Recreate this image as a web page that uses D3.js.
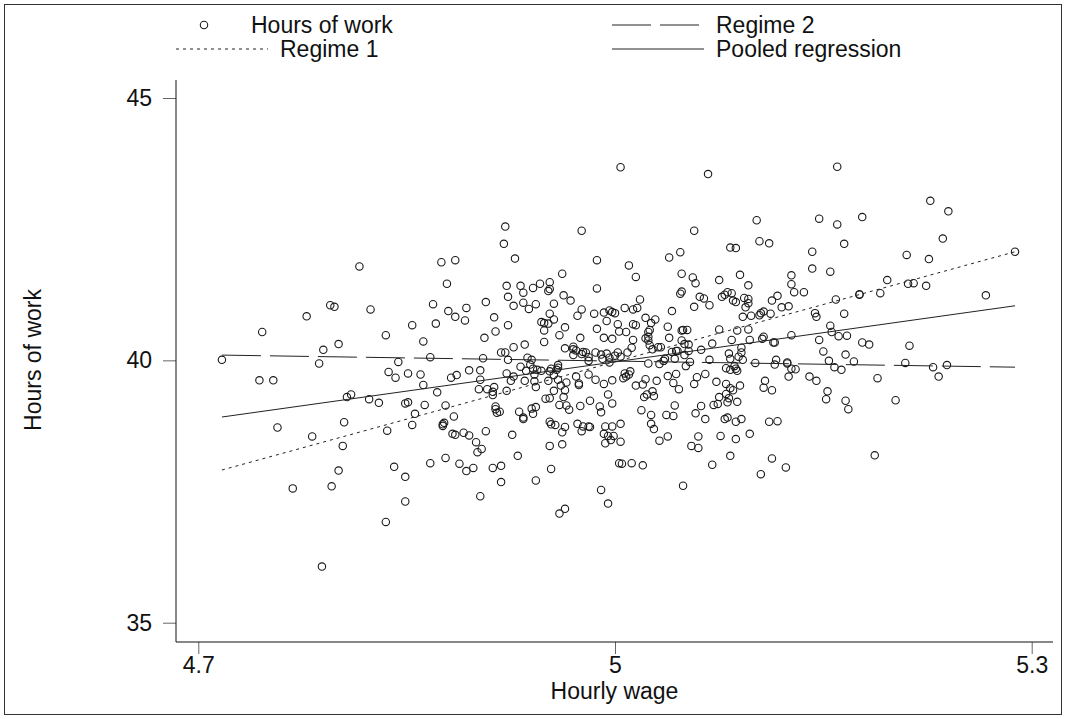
<!DOCTYPE html>
<html lang="en">
<head>
    <meta charset="UTF-8">
    <title>Hours of work and hourly wage</title>
    <script src="https://d3js.org/d3.v7.min.js"></script>
    <style>
        body { margin: 0; background: #fff; }
        text { font-family: "Liberation Sans", Arial, sans-serif; fill: #111; }
        .tick text { font-size: 23px; }
        .tick line { stroke: #666; }
    </style>
</head>
<body>
    <svg id="chart" width="1067" height="719"></svg>
    <script>
        // observations: [hourly wage, hours of work]
        const obs = [
            [4.717,40.01],[4.746,40.54],[4.744,39.62],[4.754,39.62],[4.757,38.72],[4.768,37.56],[4.778,40.84],[4.782,38.55],[4.787,39.94],[4.790,40.20],
            [4.789,36.07],[4.795,41.05],[4.798,41.02],[4.796,37.60],[4.801,40.31],[4.801,37.90],[4.804,38.37],[4.805,38.82],[4.807,39.30],[4.810,39.35],
            [4.816,41.79],[4.823,39.26],[4.824,40.97],[4.830,39.19],[4.835,40.48],[4.836,38.66],[4.835,36.92],[4.837,39.78],[4.841,37.97],[4.842,39.67],
            [4.844,39.97],[4.849,39.18],[4.851,39.75],[4.851,39.20],[4.849,37.78],[4.849,37.31],[4.854,40.67],[4.856,38.98],[4.854,38.77],[4.875,41.87],
            [4.885,41.91],[4.921,42.55],[4.920,42.22],[4.928,41.94],[4.976,42.47],[4.987,41.91],[4.962,41.65],[4.953,41.49],[5.004,43.68],[4.879,41.46],
            [4.922,41.42],[4.932,41.42],[4.941,41.38],[4.946,41.46],[4.952,41.32],[4.953,41.36],[4.934,41.29],[4.923,41.21],[4.963,41.24],[4.968,41.14],
            [4.987,41.37],[4.869,41.07],[4.907,41.11],[4.927,41.04],[4.934,41.10],[4.938,40.98],[4.943,41.07],[4.956,41.08],[4.880,40.94],[4.893,41.00],
            [4.885,40.83],[4.892,40.76],[4.913,40.82],[4.953,40.89],[4.976,40.97],[4.973,40.85],[4.985,40.89],[4.992,40.91],[4.996,40.95],[4.998,40.92],
            [5.000,40.90],[4.956,40.78],[4.947,40.73],[4.949,40.71],[4.952,40.70],[4.871,40.70],[4.923,40.67],[4.994,40.75],[5.002,40.69],[4.914,40.55],
            [4.949,40.57],[4.964,40.63],[4.987,40.60],[5.003,40.55],[4.906,40.43],[4.960,40.48],[4.975,40.43],[4.992,40.43],[4.998,40.41],[4.862,40.36],
            [4.949,40.35],[4.935,40.30],[4.927,40.25],[4.964,40.23],[4.970,40.26],[4.970,40.21],[4.972,40.19],[4.977,40.16],[4.979,40.15],[4.976,40.12],
            [4.986,40.15],[4.990,40.11],[4.994,40.13],[5.000,40.09],[5.002,40.15],[4.918,40.15],[4.921,40.15],[4.970,40.10],[4.981,40.06],[4.991,40.03],
            [4.996,40.05],[4.867,40.06],[4.905,40.04],[4.923,40.01],[4.937,40.05],[4.940,40.01],[4.959,39.91],[4.959,39.86],[4.958,39.82],[4.981,39.99],
            [4.996,39.96],[4.932,39.88],[4.939,39.92],[4.941,39.84],[4.936,39.80],[4.944,39.82],[4.947,39.80],[4.954,39.84],[4.953,39.79],[4.903,39.81],
            [4.895,39.81],[4.860,39.73],[4.922,39.75],[4.927,39.69],[4.942,39.73],[4.956,39.72],[4.972,39.69],[4.981,39.73],[4.882,39.67],[4.886,39.72],
            [4.903,39.63],[4.925,39.61],[4.935,39.61],[4.942,39.60],[4.952,39.61],[4.959,39.63],[4.965,39.58],[4.986,39.63],[4.992,39.55],[4.998,39.62],
            [4.974,39.56],[4.974,39.53],[4.862,39.53],[4.961,39.52],[4.943,39.49],[4.902,39.45],[4.908,39.45],[4.913,39.49],[4.922,39.42],[4.956,39.42],
            [4.964,39.43],[4.912,39.40],[4.912,39.34],[4.872,39.39],[4.995,39.35],[4.963,39.30],[4.953,39.28],[4.950,39.27],[4.982,39.23],[4.960,39.15],
            [4.965,39.14],[4.967,39.06],[4.863,39.15],[4.878,39.14],[4.914,39.12],[4.914,39.07],[4.915,39.00],[4.917,39.02],[4.943,39.11],[4.940,39.08],
            [4.931,39.02],[4.934,38.91],[4.934,38.88],[4.941,38.98],[4.975,39.13],[4.989,39.12],[4.990,39.01],[4.998,39.18],[4.884,38.93],[4.876,38.78],
            [4.877,38.81],[4.876,38.75],[4.953,38.83],[4.954,38.78],[4.957,38.77],[4.964,38.73],[4.973,38.79],[4.977,38.74],[4.981,38.74],[4.982,38.73],
            [4.993,38.74],[4.998,38.74],[4.962,38.63],[4.976,38.65],[4.992,38.60],[4.995,38.56],[4.997,38.48],[4.993,38.42],[4.885,38.58],[4.883,38.60],
            [4.891,38.62],[4.895,38.57],[4.907,38.65],[4.926,38.58],[4.900,38.44],[4.904,38.31],[4.901,38.25],[4.953,38.37],[4.962,38.40],[4.930,38.18],
            [4.867,38.04],[4.878,38.14],[4.888,38.03],[4.898,37.95],[4.912,37.95],[4.918,37.99],[4.954,37.93],[5.003,38.04],[4.893,37.89],[4.918,37.68],
            [4.903,37.41],[4.943,37.71],[4.960,37.08],[4.964,37.17],[4.990,37.53],[4.995,37.27],[5.067,43.55],[5.102,42.67],[5.147,42.70],[5.057,42.47],
            [5.104,42.27],[5.111,42.23],[5.083,42.15],[5.087,42.14],[5.047,42.06],[5.039,41.96],[5.142,42.07],[5.010,41.81],[5.142,41.75],[5.015,41.59],
            [5.048,41.65],[5.056,41.58],[5.075,41.53],[5.090,41.63],[5.127,41.62],[5.155,41.69],[5.058,41.47],[5.127,41.45],[5.129,41.30],[5.136,41.30],
            [5.096,41.43],[5.018,41.16],[5.013,40.97],[5.016,41.00],[5.007,41.00],[5.041,40.94],[5.048,41.31],[5.047,41.27],[5.057,41.02],[5.061,41.21],
            [5.064,41.18],[5.068,41.05],[5.077,41.21],[5.079,41.25],[5.081,41.30],[5.084,41.28],[5.085,41.14],[5.087,41.11],[5.093,41.19],[5.096,41.17],
            [5.096,41.09],[5.094,41.01],[5.113,41.14],[5.117,41.23],[5.120,41.01],[5.125,41.03],[5.092,40.83],[5.098,40.85],[5.104,40.86],[5.105,40.90],
            [5.107,40.93],[5.112,40.89],[5.144,40.90],[5.145,40.83],[5.022,40.81],[5.029,40.78],[5.013,40.69],[5.015,40.67],[5.026,40.71],[5.038,40.64],
            [5.008,40.54],[5.025,40.58],[5.024,40.54],[5.048,40.57],[5.049,40.58],[5.052,40.58],[5.075,40.59],[5.088,40.57],[5.096,40.59],[5.155,40.66],
            [5.013,40.39],[5.022,40.42],[5.024,40.38],[5.024,40.45],[5.039,40.43],[5.048,40.38],[5.070,40.32],[5.084,40.39],[5.097,40.39],[5.107,40.45],
            [5.106,40.41],[5.114,40.34],[5.115,40.34],[5.127,40.48],[5.147,40.39],[5.012,40.24],
            [5.004,40.07],[5.009,40.15],[5.025,40.29],[5.027,40.21],[5.031,40.25],[5.033,40.25],[5.041,40.16],[5.044,40.18],[5.045,40.18],[5.050,40.31],
            [5.053,40.30],[5.053,40.18],[5.050,40.10],[5.062,40.20],[5.082,40.13],[5.091,40.24],[5.091,40.15],[5.089,40.07],[5.150,40.17],[5.024,39.94],
            [5.032,39.93],[5.035,39.99],[5.036,40.03],[5.043,40.03],[5.054,39.97],[5.051,39.89],[5.068,40.01],[5.083,40.03],[5.092,40.01],[5.101,39.95],
            [5.116,40.01],[5.115,39.92],[5.124,39.96],[5.124,39.94],[5.127,39.84],[5.130,39.83],[5.154,39.99],[5.080,39.85],[5.083,39.82],[5.086,39.89],
            [5.087,39.84],[5.088,39.80],[5.007,39.75],[5.011,39.79],[5.010,39.73],[5.006,39.66],[5.008,39.69],[5.022,39.64],[5.030,39.61],[5.044,39.74],
            [5.038,39.70],[5.059,39.68],[5.065,39.74],[5.073,39.59],[5.125,39.69],[5.140,39.69],[5.145,39.61],[5.108,39.61],[5.015,39.52],[5.020,39.54],
            [5.042,39.57],[5.046,39.45],[5.057,39.55],[5.080,39.55],[5.083,39.47],[5.085,39.43],[5.090,39.52],[5.107,39.48],[5.113,39.43],[5.027,39.41],
            [5.023,39.35],[5.021,39.30],[5.028,39.32],[5.080,39.36],[5.082,39.28],[5.075,39.30],[5.081,39.20],[5.088,39.21],[5.074,39.17],[5.071,39.15],
            [5.153,39.41],[5.152,39.26],[5.043,39.14],[5.062,39.13],[5.019,39.05],[5.037,38.96],[5.042,38.94],[5.026,38.96],[5.058,38.99],[5.065,38.88],
            [5.079,38.88],[5.081,38.91],[5.091,38.88],[5.087,38.83],[5.111,38.83],[5.117,38.84],[5.026,38.79],[5.028,38.69],[5.004,38.79],[4.999,38.56],
            [5.004,38.45],[5.038,38.55],[5.032,38.47],[5.060,38.55],[5.055,38.37],[5.060,38.33],[5.076,38.56],[5.087,38.50],[5.097,38.60],[5.083,38.18],
            [5.113,38.13],[5.123,37.96],[5.005,38.03],[5.012,38.04],[5.020,38.00],[5.070,38.01],[5.049,37.61],[5.105,37.83],[5.160,43.69],[5.227,43.04],
            [5.240,42.84],[5.178,42.73],[5.160,42.59],[5.165,42.22],[5.236,42.32],[5.210,42.01],[5.226,41.93],[5.288,42.07],[5.196,41.53],[5.211,41.46],
            [5.215,41.47],[5.224,41.42],[5.267,41.24],[5.176,41.25],[5.176,41.26],[5.191,41.28],[5.159,41.16],[5.165,40.89],[5.156,40.54],[5.161,40.46],
            [5.167,40.47],[5.178,40.34],[5.183,40.30],[5.212,40.28],[5.166,40.11],[5.172,39.98],[5.158,39.87],[5.163,39.82],[5.209,39.95],[5.229,39.87],
            [5.239,39.91],[5.233,39.69],[5.189,39.66],[5.166,39.23],[5.168,39.07],[5.202,39.24],[5.187,38.19]
        ];

        // fitted lines, end points
        const regime1 = [[4.717, 37.91], [5.288, 42.07]];
        const regime2 = [[4.717, 40.10], [5.288, 39.87]];
        const pooled = [[4.717, 38.92], [5.288, 41.04]];

        const xTicks = [4.7, 5, 5.3];
        const yTicks = [35, 40, 45];

        const svg = d3.select("#chart");

        // plot region
        const plotLeft = 176, plotRight = 1053, plotTop = 80, plotBottom = 642;

        const x = d3.scaleLinear().domain([4.7, 5.3]).range([198.3, 1031.7]);
        const y = d3.scaleLinear().domain([35, 45]).range([622.7, 98]);

        // outer frame
        svg.append("rect")
            .attr("x", 4.5).attr("y", 4.5)
            .attr("width", 1057).attr("height", 710)
            .attr("fill", "none")
            .attr("stroke", "#333")
            .attr("stroke-width", 1);

        // scatter
        svg.append("g")
            .selectAll("circle")
            .data(obs)
            .join("circle")
            .attr("cx", d => x(d[0]))
            .attr("cy", d => y(d[1]))
            .attr("r", 3.7)
            .attr("fill", "none")
            .attr("stroke", "#1a1a1a")
            .attr("stroke-width", 1.1);

        const line = d3.line().x(d => x(d[0])).y(d => y(d[1]));

        const fits = [
            { data: regime1, dash: "3,4" },
            { data: regime2, dash: "39,9" },
            { data: pooled, dash: null }
        ];

        svg.append("g")
            .selectAll("path")
            .data(fits)
            .join("path")
            .attr("d", d => line(d.data))
            .attr("fill", "none")
            .attr("stroke", "#222")
            .attr("stroke-width", 1)
            .attr("stroke-dasharray", d => d.dash);

        // axes
        const xAxis = svg.append("g")
            .attr("transform", `translate(0,${plotBottom})`)
            .call(d3.axisBottom(x).tickValues(xTicks).tickFormat(d3.format("")).tickSize(12).tickPadding(3));
        xAxis.select(".domain").remove();

        const yAxis = svg.append("g")
            .attr("transform", `translate(${plotLeft},0)`)
            .call(d3.axisLeft(y).tickValues(yTicks).tickSize(13).tickPadding(11));
        yAxis.select(".domain").remove();

        svg.append("line")
            .attr("x1", plotLeft).attr("x2", plotRight)
            .attr("y1", plotBottom).attr("y2", plotBottom)
            .attr("stroke", "#111");
        svg.append("line")
            .attr("x1", plotLeft).attr("x2", plotLeft)
            .attr("y1", plotTop).attr("y2", plotBottom)
            .attr("stroke", "#111");

        svg.append("text")
            .attr("x", (plotLeft + plotRight) / 2).attr("y", 699)
            .attr("text-anchor", "middle")
            .style("font-size", "23px")
            .text("Hourly wage");

        svg.append("text")
            .attr("transform", "translate(41,360) rotate(-90)")
            .attr("text-anchor", "middle")
            .style("font-size", "23px")
            .text("Hours of work");

        // legend
        const legendItems = [
            { label: "Hours of work", x: 176, y: 25, kind: "marker" },
            { label: "Regime 2", x: 612, y: 25, kind: "line", dash: "39,9" },
            { label: "Regime 1", x: 176, y: 49, kind: "line", dash: "3,4" },
            { label: "Pooled regression", x: 612, y: 49, kind: "line", dash: null }
        ];

        const lg = svg.append("g")
            .selectAll("g")
            .data(legendItems)
            .join("g")
            .attr("transform", d => `translate(${d.x},${d.y})`);

        lg.filter(d => d.kind === "marker")
            .append("circle")
            .attr("cx", 28).attr("cy", 0).attr("r", 3.7)
            .attr("fill", "none").attr("stroke", "#1a1a1a").attr("stroke-width", 1.1);

        lg.filter(d => d.kind === "line")
            .append("line")
            .attr("x1", 0).attr("x2", 92)
            .attr("stroke", "#222")
            .attr("stroke-dasharray", d => d.dash);

        lg.append("text")
            .attr("x", d => d.kind === "marker" ? 75 : 104)
            .attr("y", 8)
            .style("font-size", "23px")
            .text(d => d.label);
    </script>
</body>
</html>
